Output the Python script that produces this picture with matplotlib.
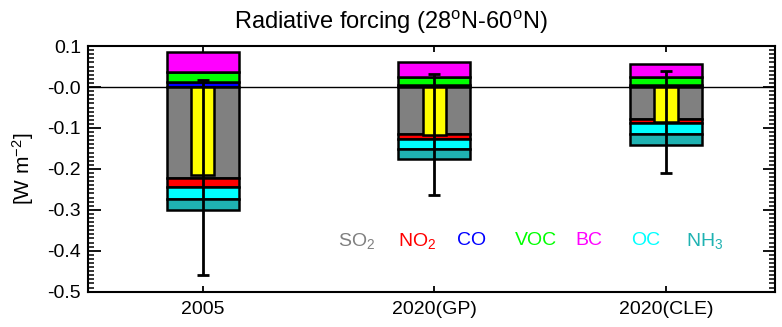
import numpy as np
import matplotlib
matplotlib.use('Agg')
import matplotlib.pyplot as plt

plt.rcParams['font.family'] = ['Liberation Sans', 'DejaVu Sans']
plt.rcParams['mathtext.fontset'] = 'custom'
plt.rcParams['mathtext.rm'] = 'Liberation Sans'
plt.rcParams['mathtext.it'] = 'Liberation Sans'
plt.rcParams['axes.unicode_minus'] = False

# scenarios
scenarios = ['2005', '2020(GP)', '2020(CLE)']

# positive contributions (W m-2)
co = [0.012, 0.005, 0.006]
voc = [0.024, 0.020, 0.019]
bc = [0.050, 0.036, 0.031]

# negative contributions (W m-2)
so2 = [-0.222, -0.114, -0.079]
no2 = [-0.022, -0.012, -0.008]
oc = [-0.030, -0.026, -0.028]
nh3 = [-0.027, -0.025, -0.027]

# uncertainty range of the net forcing
err_low = [-0.460, -0.265, -0.210]
err_high = [0.018, 0.033, 0.040]

species = ['SO$_2$', 'NO$_2$', 'CO', 'VOC', 'BC', 'OC', 'NH$_3$']
colors = {'SO2': '#808080', 'NO2': '#ff0000', 'CO': '#0000ff', 'VOC': '#00ff00',
          'BC': '#ff00ff', 'OC': '#00ffff', 'NH3': '#1fb2b2'}
label_colors = ['#808080', '#ff0000', '#0000ff', '#00ff00', '#ff00ff', '#00ffff', '#1fb2b2']
label_x = [1.665, 1.925, 2.16, 2.44, 2.665, 2.91, 3.165]

x = np.arange(1, len(scenarios) + 1)
width = 0.31
lw = 1.8

fig = plt.figure(figsize=(7.82, 3.27), dpi=100)
ax = fig.add_axes([0.1125, 0.108, 0.8785, 0.751])

ax.axhline(0, color='black', lw=1, zorder=1)

# stacked positive part
bottom = np.zeros(len(x))
for vals, key in [(co, 'CO'), (voc, 'VOC'), (bc, 'BC')]:
    ax.bar(x, vals, width, bottom=bottom, color=colors[key], edgecolor='black',
           linewidth=lw, zorder=2)
    bottom = bottom + np.array(vals)
pos_total = bottom

# stacked negative part
bottom = np.zeros(len(x))
for vals, key in [(so2, 'SO2'), (no2, 'NO2'), (oc, 'OC'), (nh3, 'NH3')]:
    ax.bar(x, vals, width, bottom=bottom, color=colors[key], edgecolor='black',
           linewidth=lw, zorder=2)
    bottom = bottom + np.array(vals)
neg_total = bottom

net = pos_total + neg_total

# net forcing bar
ax.bar(x, net, 0.1, color='#ffff00', edgecolor='black', linewidth=lw, zorder=3)

# uncertainty
yerr = [net - np.array(err_low), np.array(err_high) - net]
ax.errorbar(x, net, yerr=yerr, fmt='none', ecolor='black', elinewidth=2,
            capsize=4.5, capthick=2, zorder=4)

for name, c, xp in zip(species, label_colors, label_x):
    ax.text(xp, -0.375, name, color=c, fontsize=14, ha='center', va='center')

ax.set_xlim(0.505, 3.47)
ax.set_ylim(-0.5, 0.1)
ax.set_xticks(x)
ax.set_xticklabels(scenarios, fontsize=14)
ax.set_yticks(np.arange(-0.5, 0.11, 0.1))
ax.set_yticklabels(['%.1f' % v for v in np.arange(-0.5, 0.11, 0.1)], fontsize=14)
ax.set_yticks(np.arange(-0.5, 0.1001, 0.01), minor=True)
ax.tick_params(axis='y', which='major', direction='in', length=9, width=1.3,
               left=True, right=True, pad=5)
ax.tick_params(axis='y', which='minor', direction='in', length=4.5, width=1.1,
               left=True, right=True)
ax.tick_params(axis='x', which='major', direction='in', length=4, width=1.3,
               top=True, bottom=True, pad=7)
ax.tick_params(axis='x', which='minor', bottom=False, top=False)
for s in ax.spines.values():
    s.set_linewidth(1.5)

ax.set_ylabel('[W m$^{-2}$]', fontsize=15, labelpad=8)
# title is centred on the figure, not on the axes
ax.set_title('Radiative forcing (28$^{\\rm o}$N-60$^{\\rm o}$N)', fontsize=17,
             pad=12, x=0.441)

fig.savefig('out.png', dpi=100)
